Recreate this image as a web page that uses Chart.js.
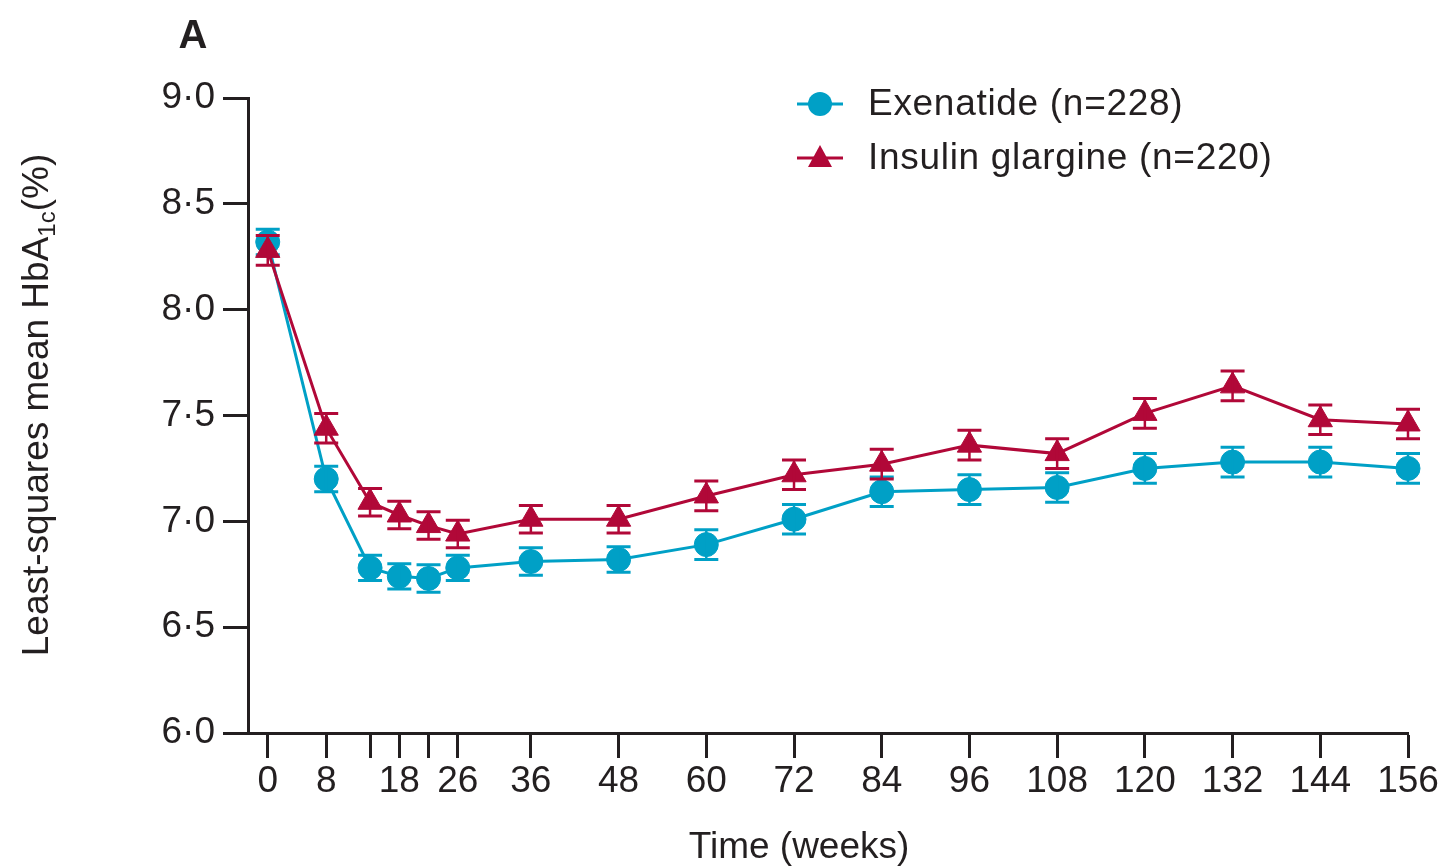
<!DOCTYPE html>
<html>
<head>
<meta charset="utf-8">
<script src="https://cdn.jsdelivr.net/npm/chart.js@4"></script>
<style>
html, body { margin: 0; padding: 0; background: #fff; }
#wrap { width: 1446px; height: 868px; }
</style>
</head>
<body>
<div id="wrap"><canvas id="hba1cChart" width="1446" height="868"></canvas></div>
<script>
// weeks where HbA1c was measured
const weeks = [0, 8, 14, 18, 22, 26, 36, 48, 60, 72, 84, 96, 108, 120, 132, 144, 156];
// only these weeks get a label under the tick
const labeledWeeks = [0, 8, 18, 26, 36, 48, 60, 72, 84, 96, 108, 120, 132, 144, 156];
const yTicks = [6.0, 6.5, 7.0, 7.5, 8.0, 8.5, 9.0];

const exenatideMean = [8.32, 7.20, 6.78, 6.74, 6.73, 6.78, 6.81, 6.82, 6.89, 7.01, 7.14, 7.15, 7.16, 7.25, 7.28, 7.28, 7.25];
const exenatideSE   = [0.06, 0.06, 0.06, 0.06, 0.065, 0.06, 0.065, 0.06, 0.07, 0.07, 0.07, 0.07, 0.07, 0.07, 0.07, 0.07, 0.07];
const glargineMean  = [8.28, 7.44, 7.09, 7.03, 6.98, 6.94, 7.01, 7.01, 7.12, 7.22, 7.27, 7.36, 7.32, 7.51, 7.64, 7.48, 7.46];
const glargineSE    = [0.07, 0.07, 0.065, 0.065, 0.065, 0.065, 0.065, 0.065, 0.07, 0.07, 0.07, 0.07, 0.07, 0.07, 0.07, 0.07, 0.07];

const blue = '#00a0c6';
const red = '#b10838';
const ink = '#231f20';
const fontFamily = '"Liberation Sans", Arial, sans-serif';

function toPoints(means) {
	return weeks.map((w, i) => ({ x: w, y: means[i] }));
}

// draws the SE bars with caps for every dataset that has errors
const errorBars = {
	id: 'errorBars',
	afterDatasetDraw(chart, args) {
		const ds = chart.data.datasets[args.index];
		if (!ds.errors) return;
		const ctx = chart.ctx;
		const xs = chart.scales.x;
		const ys = chart.scales.y;
		ctx.save();
		ctx.strokeStyle = ds.borderColor;
		ds.data.forEach((p, i) => {
			const px = xs.getPixelForValue(p.x);
			const top = ys.getPixelForValue(p.y + ds.errors[i]);
			const bot = ys.getPixelForValue(p.y - ds.errors[i]);
			ctx.lineWidth = 2.5;
			ctx.beginPath();
			ctx.moveTo(px, top);
			ctx.lineTo(px, bot);
			ctx.stroke();
			ctx.lineWidth = 3;
			ctx.beginPath();
			ctx.moveTo(px - 12, top);
			ctx.lineTo(px + 12, top);
			ctx.moveTo(px - 12, bot);
			ctx.lineTo(px + 12, bot);
			ctx.stroke();
		});
		ctx.restore();
	}
};

// panel letter, axis titles and legend
const extraText = {
	id: 'extraText',
	afterDraw(chart) {
		const ctx = chart.ctx;
		ctx.save();
		ctx.fillStyle = ink;

		// panel letter
		ctx.font = 'bold 40px ' + fontFamily;
		ctx.textAlign = 'center';
		ctx.textBaseline = 'alphabetic';
		ctx.fillText('A', 193, 48);

		// x title
		ctx.font = '37px ' + fontFamily;
		ctx.fillText('Time (weeks)', 799, 858);

		// y title with subscript
		const bigFont = '37px ' + fontFamily;
		const smallFont = '24px ' + fontFamily;
		ctx.font = bigFont;
		const w1 = ctx.measureText('Least-squares mean HbA').width;
		const w3 = ctx.measureText('(%)').width;
		ctx.font = smallFont;
		const w2 = ctx.measureText('1c').width;
		const total = w1 + w2 + w3;
		ctx.translate(48, 405);
		ctx.rotate(-Math.PI / 2);
		ctx.textAlign = 'left';
		let x = -total / 2;
		ctx.font = bigFont;
		ctx.fillText('Least-squares mean HbA', x, 0);
		x += w1;
		ctx.font = smallFont;
		ctx.fillText('1c', x, 7);
		x += w2;
		ctx.font = bigFont;
		ctx.fillText('(%)', x, 0);
		ctx.setTransform(1, 0, 0, 1, 0, 0);

		// legend
		const rows = [
			{ label: 'Exenatide (n=228)', color: blue, shape: 'circle', y: 104 },
			{ label: 'Insulin glargine (n=220)', color: red, shape: 'triangle', y: 158 }
		];
		rows.forEach(r => {
			ctx.strokeStyle = r.color;
			ctx.fillStyle = r.color;
			ctx.lineWidth = 3;
			ctx.beginPath();
			ctx.moveTo(797, r.y);
			ctx.lineTo(843, r.y);
			ctx.stroke();
			ctx.beginPath();
			if (r.shape === 'circle') {
				ctx.arc(820, r.y, 12, 0, Math.PI * 2);
			} else {
				ctx.moveTo(820, r.y - 13);
				ctx.lineTo(832, r.y + 9);
				ctx.lineTo(808, r.y + 9);
				ctx.closePath();
			}
			ctx.fill();
			ctx.fillStyle = ink;
			ctx.font = '37px ' + fontFamily;
			ctx.letterSpacing = '0.7px';
			ctx.textAlign = 'left';
			ctx.textBaseline = 'middle';
			ctx.fillText(r.label, 868, r.y + 1);
			ctx.letterSpacing = '0px';
		});
		ctx.restore();
	}
};

const ctx = document.getElementById('hba1cChart').getContext('2d');
const chart = new Chart(ctx, {
	type: 'line',
	data: {
		datasets: [
			{
				label: 'Exenatide (n=228)',
				data: toPoints(exenatideMean),
				errors: exenatideSE,
				borderColor: blue,
				backgroundColor: blue,
				pointBackgroundColor: blue,
				pointBorderColor: blue,
				pointStyle: 'circle',
				pointRadius: 12,
				pointBorderWidth: 1,
				borderWidth: 3,
				tension: 0,
				clip: false,
				order: 2
			},
			{
				label: 'Insulin glargine (n=220)',
				data: toPoints(glargineMean),
				errors: glargineSE,
				borderColor: red,
				backgroundColor: red,
				pointBackgroundColor: red,
				pointBorderColor: red,
				pointStyle: 'triangle',
				pointRadius: 14,
				pointBorderWidth: 1,
				borderWidth: 3,
				tension: 0,
				clip: false,
				order: 1
			}
		]
	},
	options: {
		responsive: false,
		animation: false,
		devicePixelRatio: 1,
		layout: { padding: { top: 98, right: 38, left: 0, bottom: 0 } },
		plugins: {
			legend: { display: false },
			tooltip: { enabled: false }
		},
		scales: {
			x: {
				type: 'linear',
				min: -2.7,
				max: 156,
				afterBuildTicks: scale => {
					scale.ticks = weeks.map(v => ({ value: v }));
				},
				afterFit: scale => { scale.height = 135; },
				ticks: {
					autoSkip: false,
					maxRotation: 0,
					padding: 2,
					color: ink,
					font: { family: fontFamily, size: 37 },
					callback: v => labeledWeeks.includes(v) ? String(v) : ''
				},
				grid: {
					drawOnChartArea: false,
					drawTicks: true,
					tickLength: 25,
					tickWidth: 3,
					tickColor: ink
				},
				border: { display: true, color: ink, width: 3 }
			},
			y: {
				min: 6,
				max: 9,
				afterBuildTicks: scale => {
					scale.ticks = yTicks.map(v => ({ value: v }));
				},
				afterFit: scale => { scale.width = 248; },
				ticks: {
					padding: 8,
					color: ink,
					font: { family: fontFamily, size: 37 },
					callback: v => Number(v).toFixed(1).replace('.', '\u00b7')
				},
				grid: {
					drawOnChartArea: false,
					drawTicks: true,
					tickLength: 25,
					tickWidth: 3,
					tickColor: ink
				},
				border: { display: true, color: ink, width: 3 }
			}
		}
	},
	plugins: [errorBars, extraText]
});
</script>
</body>
</html>
